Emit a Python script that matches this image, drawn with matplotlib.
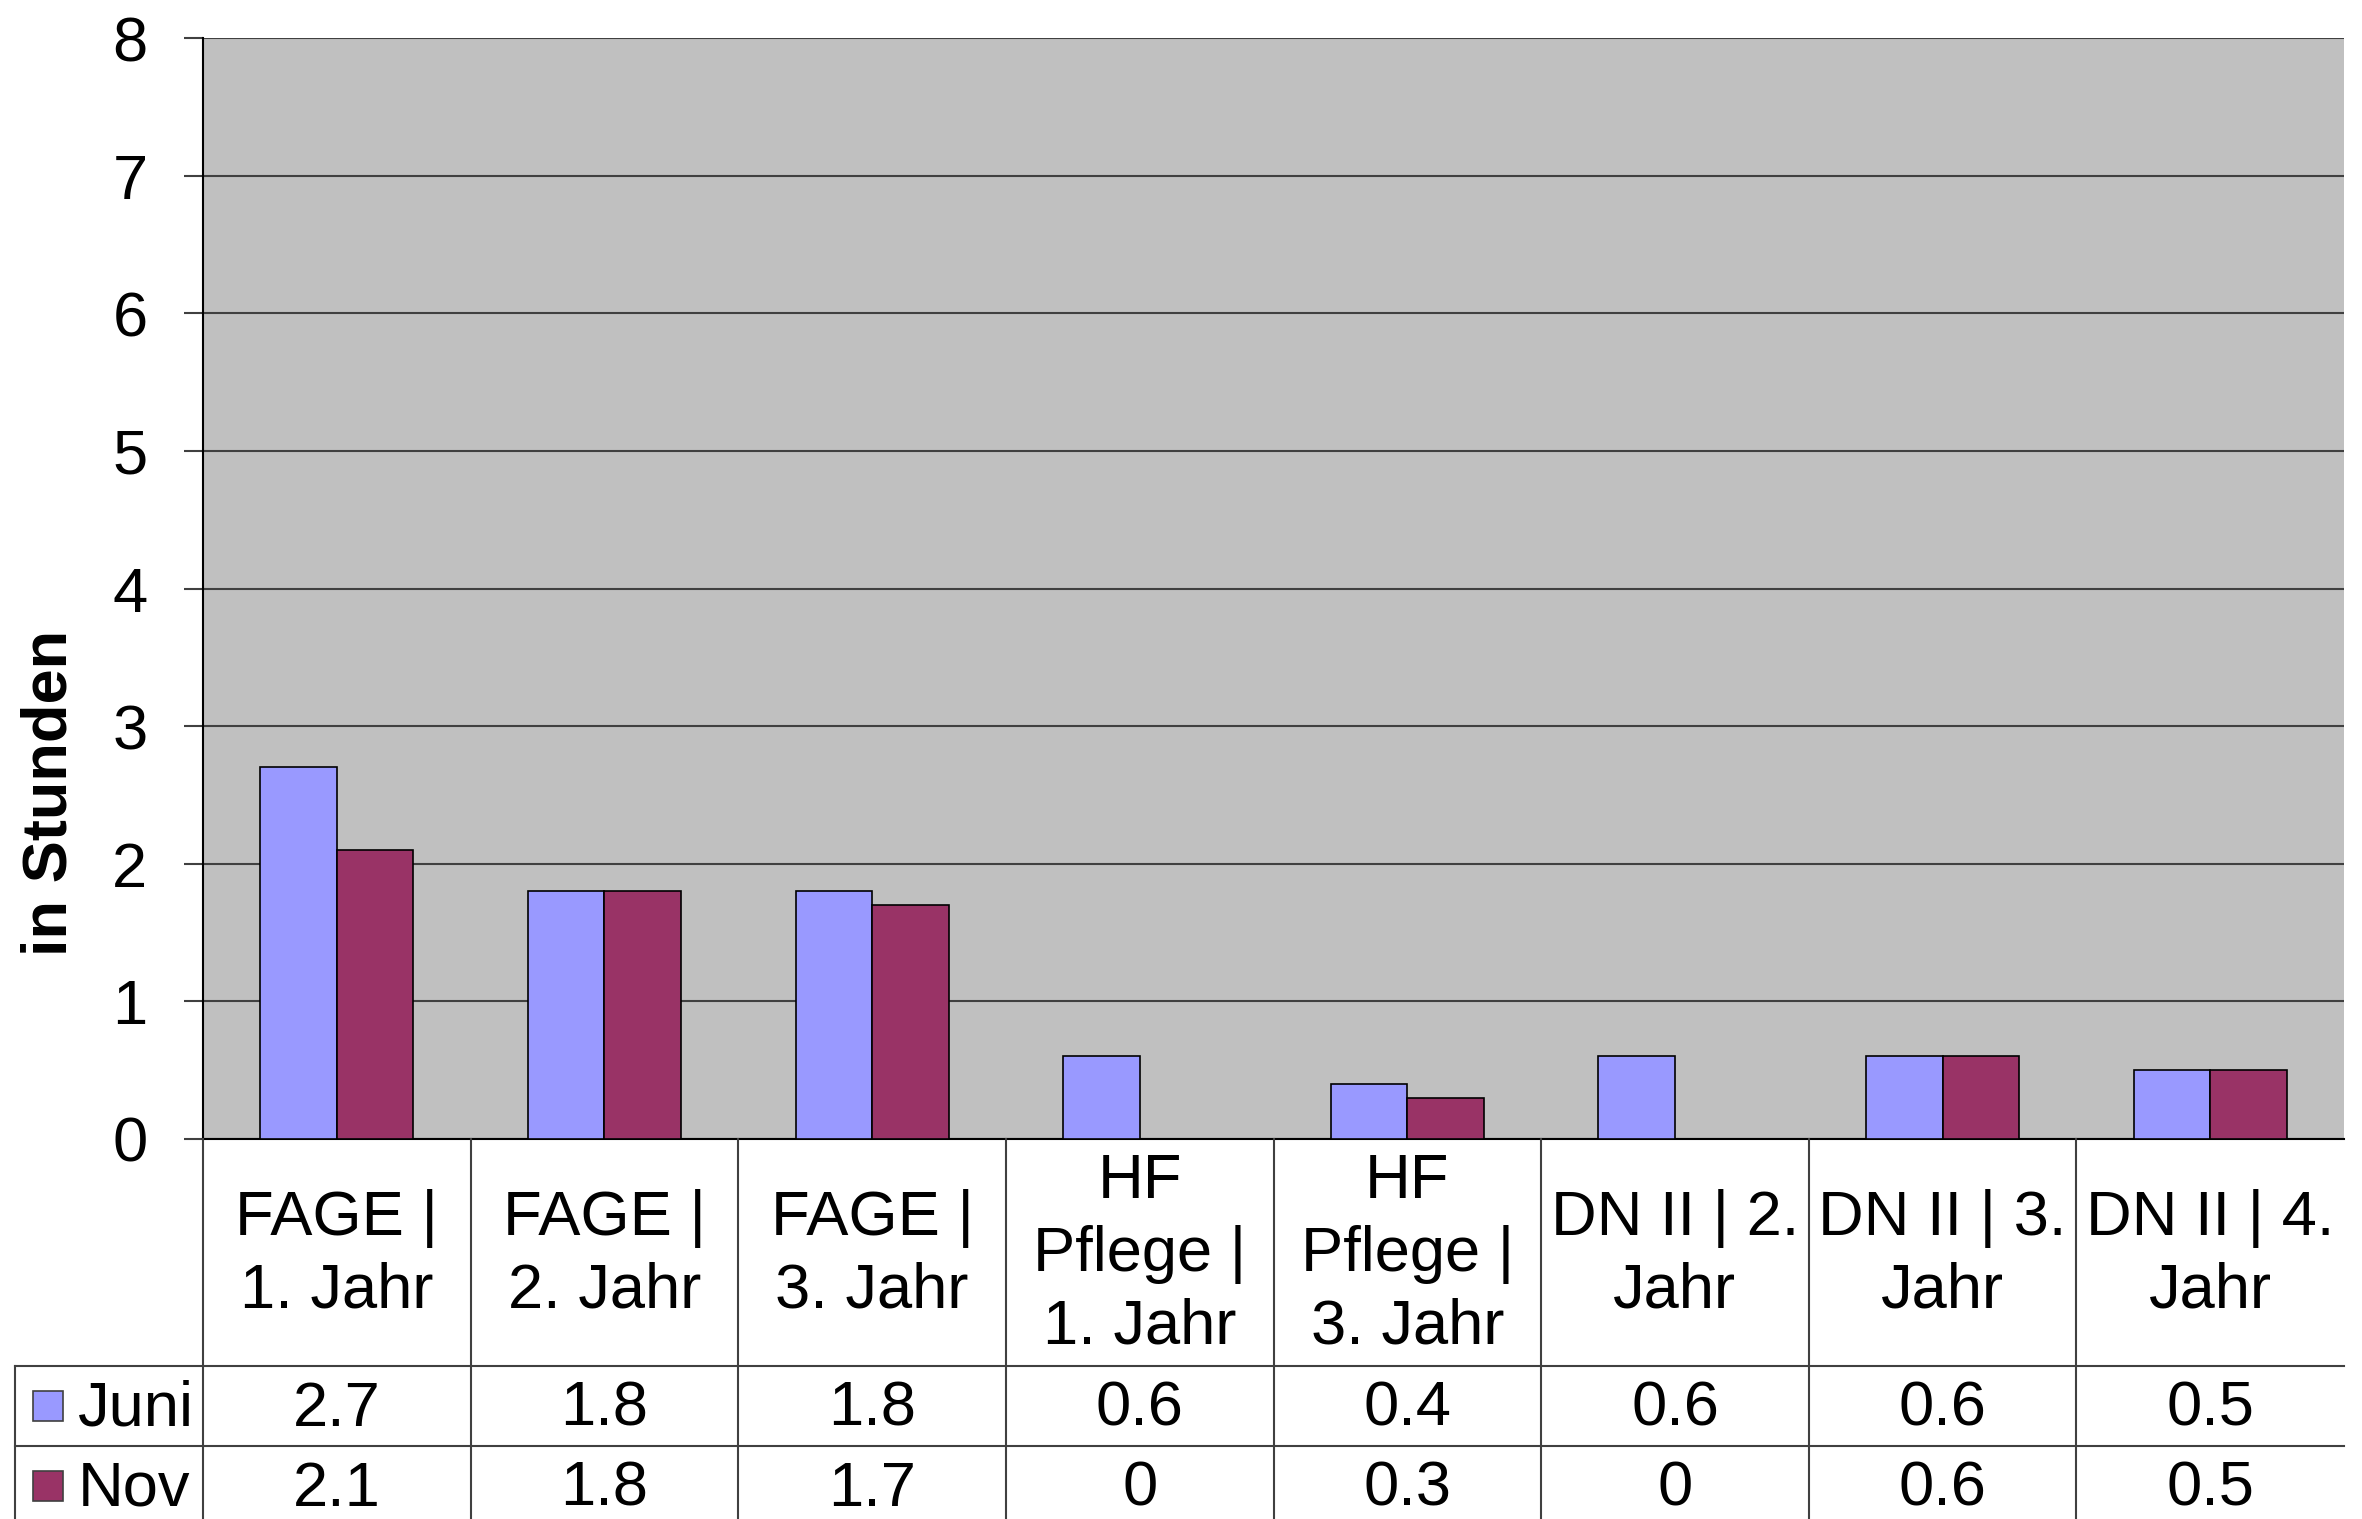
import matplotlib.pyplot as plt
from matplotlib.patches import Rectangle
import numpy as np

plt.rcParams['font.family'] = ['Liberation Sans', 'DejaVu Sans']

categories = ['FAGE |\n1. Jahr', 'FAGE |\n2. Jahr', 'FAGE |\n3. Jahr',
              'HF\nPflege |\n1. Jahr', 'HF\nPflege |\n3. Jahr',
              'DN II | 2.\nJahr', 'DN II | 3.\nJahr', 'DN II | 4.\nJahr']
juni = [2.7, 1.8, 1.8, 0.6, 0.4, 0.6, 0.6, 0.5]
nov = [2.1, 1.8, 1.7, 0, 0.3, 0, 0.6, 0.5]
series = ['Juni', 'Nov']
colors = ['#9999FF', '#993366']

W, H = 2362, 1519
fs = 45.5
line_col = '#404040'

fig = plt.figure(figsize=(W / 100, H / 100), dpi=100)

# chart area (pixel layout)
left, right, top, bottom = 203, 2344, 38, 1139
ax = fig.add_axes([left / W, 1 - bottom / H, (right - left) / W, (bottom - top) / H])
ax.set_facecolor('#C0C0C0')

x = np.arange(len(categories))
w = 1 / 3.5
ax.bar(x - w / 2, juni, w, color=colors[0], edgecolor='black', linewidth=1.2, zorder=3)
ax.bar(x + w / 2, nov, w, color=colors[1], edgecolor='black', linewidth=1.2, zorder=3)

ax.set_xlim(-0.5, len(categories) - 0.5)
ax.set_ylim(0, 8)
ax.set_yticks(range(0, 9))
ax.set_xticks([])
ax.yaxis.grid(True, color=line_col, linewidth=1.5, zorder=0)
ax.set_axisbelow(True)
ax.tick_params(axis='y', length=14, width=1.5, color=line_col, pad=26, labelsize=fs)
for s in ['top', 'right']:
    ax.spines[s].set_visible(False)
ax.spines['left'].set_color('black')
ax.spines['left'].set_linewidth(1.5)
ax.spines['bottom'].set_color('black')
ax.spines['bottom'].set_linewidth(1.5)

fig.text(50 / W, 1 - 793 / H, 'in Stunden', rotation=90, ha='center', va='center',
         fontsize=fs, fontweight='bold')

# data table below the chart, same x scale
tb = 1526
axt = fig.add_axes([left / W, 1 - tb / H, (right - left) / W, (tb - bottom) / H])
axt.set_xlim(-0.5, len(categories) - 0.5)
axt.set_ylim(tb - bottom, 0)
axt.axis('off')

head_h = 227
row_h = 80
cell = (right - left) / len(categories)
x_leg = -0.5 + (15 - left) / cell

for i, c in enumerate(categories):
    axt.text(i, head_h / 2 + 2, c, ha='center', va='center', fontsize=fs, linespacing=1.3)

for r, (name, vals) in enumerate(zip(series, [juni, nov])):
    yc = head_h + row_h * r + row_h / 2
    for i, v in enumerate(vals):
        axt.text(i, yc + 3, f'{v:g}', ha='center', va='center', fontsize=fs)
    sq = 30 / cell
    axt.add_patch(Rectangle((-0.5 + (33 - left) / cell, yc - 15), sq, 30,
                            facecolor=colors[r], edgecolor=line_col, linewidth=1.2,
                            clip_on=False))
    axt.text(-0.5 + (78 - left) / cell, yc + 3, name, ha='left', va='center', fontsize=fs,
             clip_on=False)

for yy in [head_h, head_h + row_h]:
    axt.plot([x_leg, len(categories) - 0.5], [yy, yy], color=line_col, lw=1.5, clip_on=False)
for k in range(len(categories)):
    axt.plot([k - 0.5, k - 0.5], [0, tb - bottom], color=line_col, lw=1.5, clip_on=False)
axt.plot([x_leg, x_leg], [head_h, tb - bottom], color=line_col, lw=1.5, clip_on=False)

fig.savefig('out.png', dpi=100)
